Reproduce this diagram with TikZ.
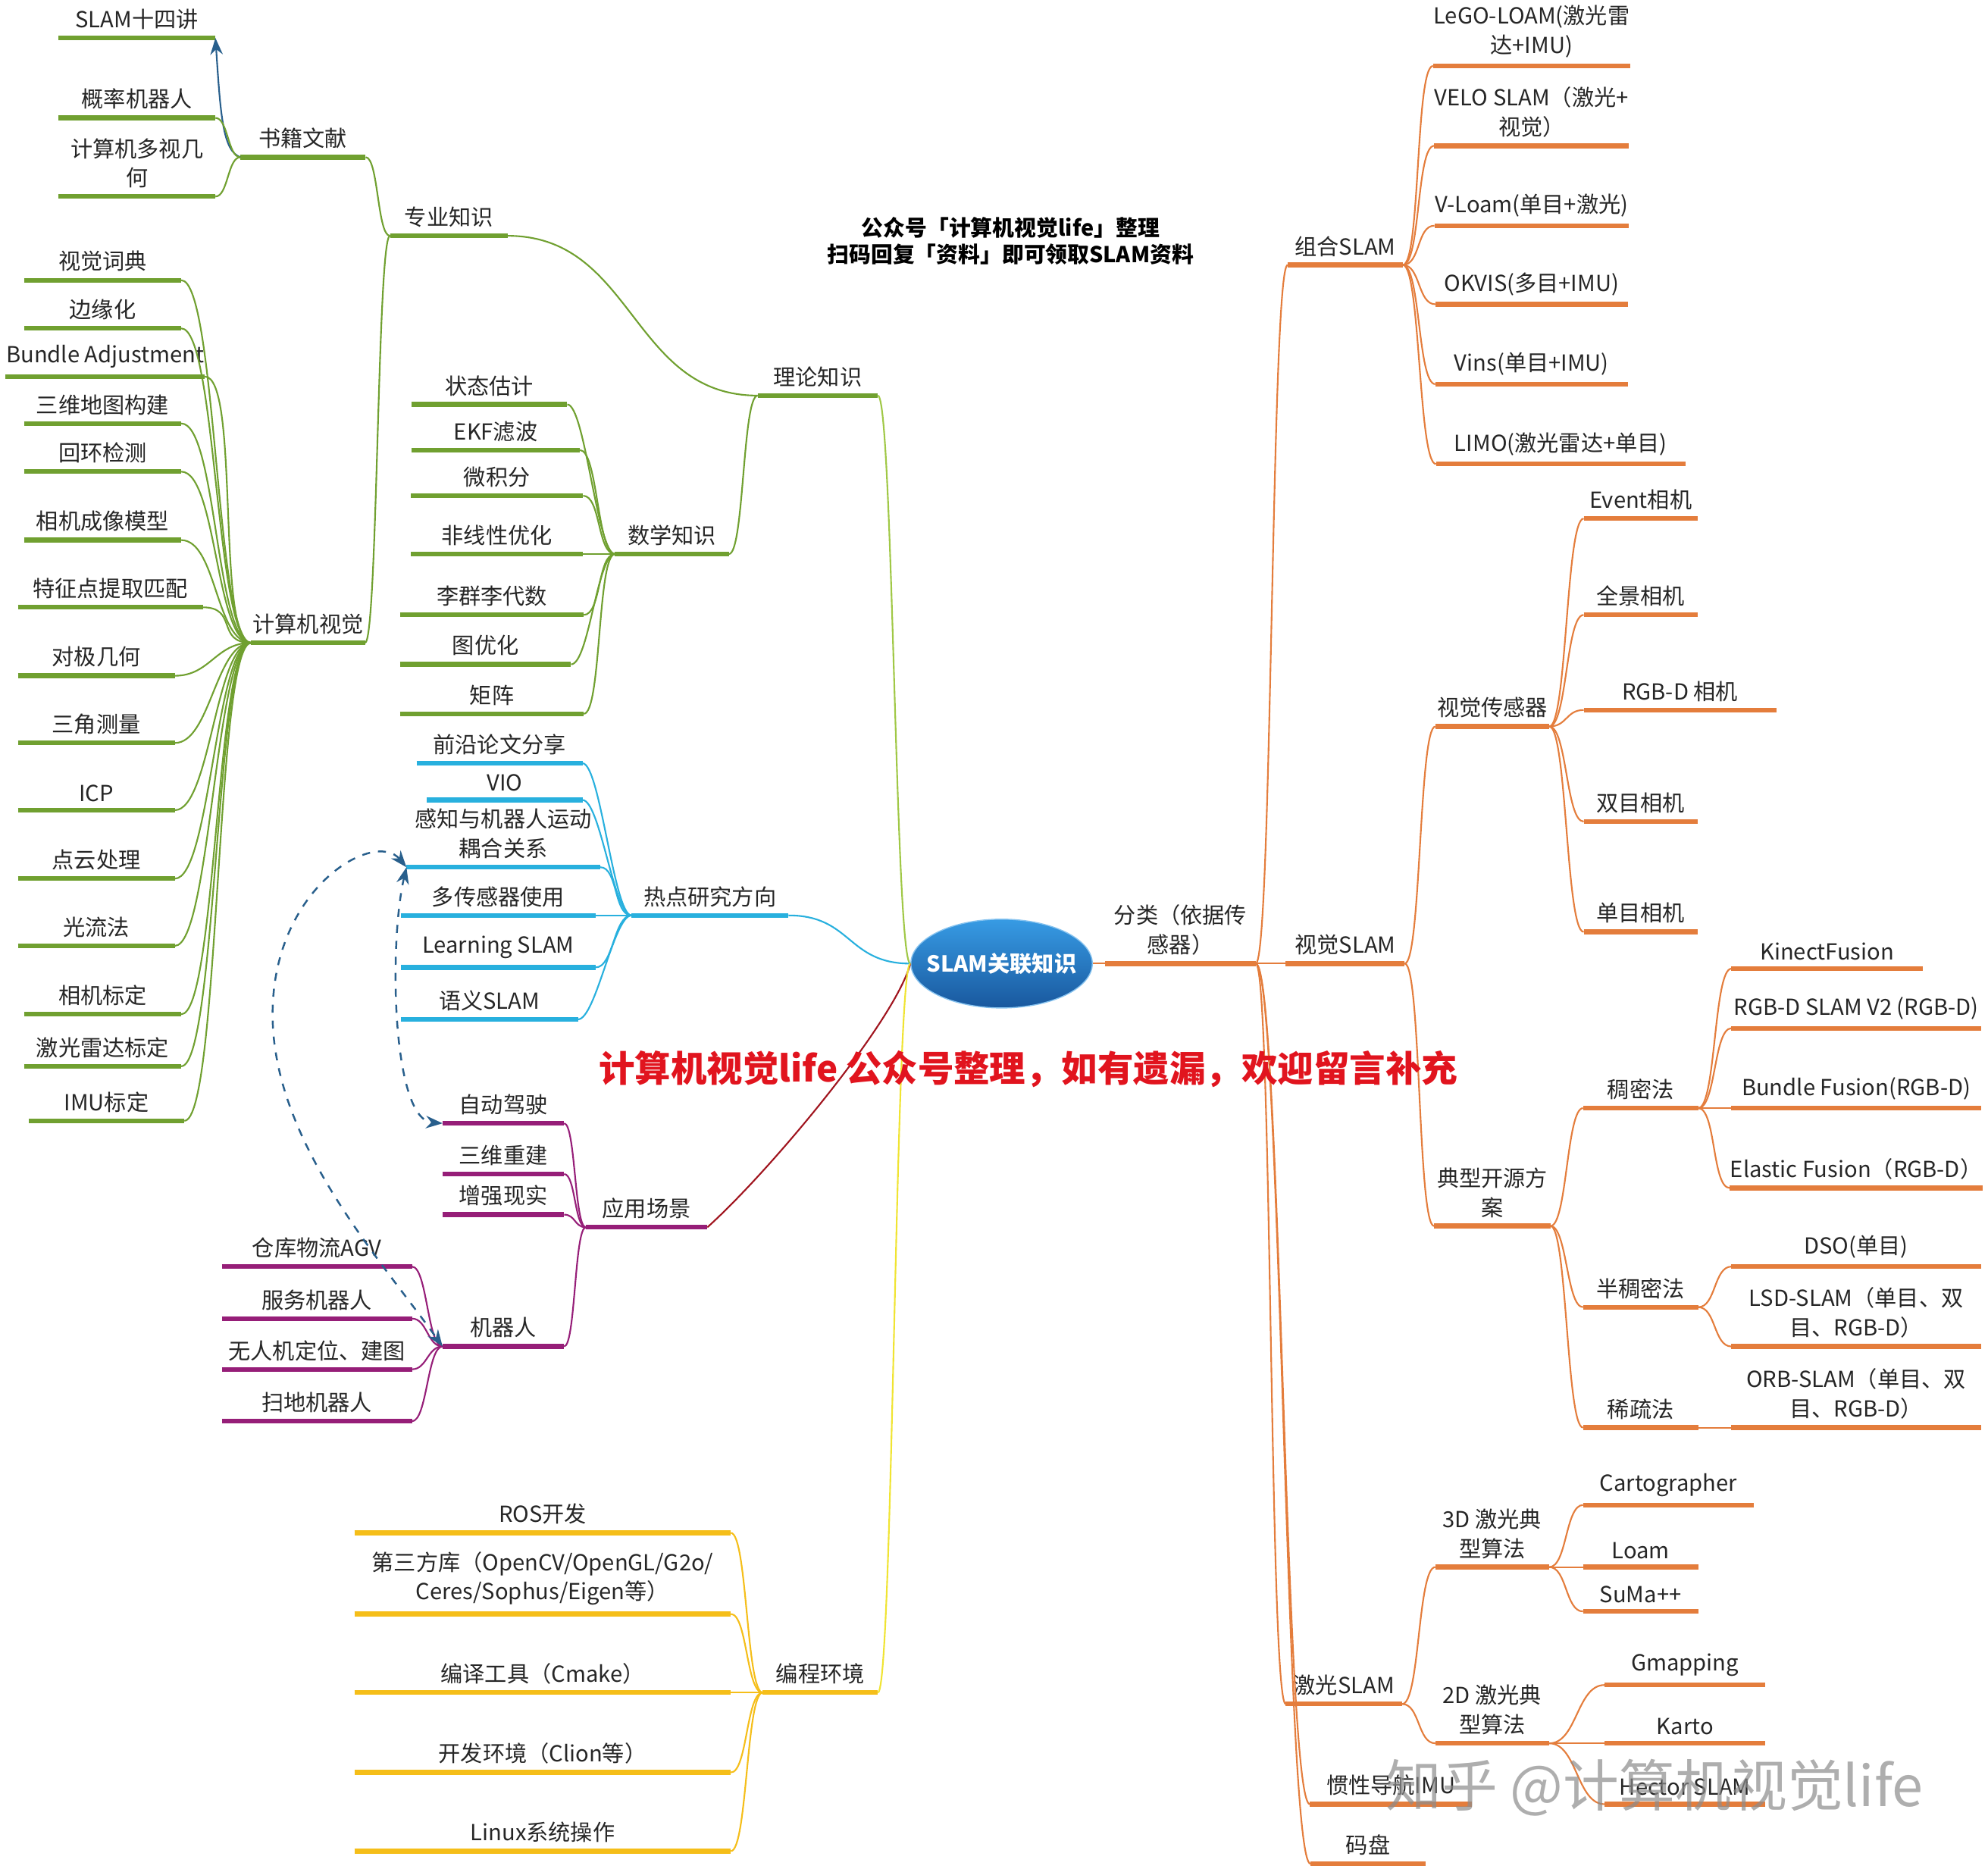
\documentclass[tikz,border=0pt]{standalone}
\usepackage{fontspec}
\usepackage{xcolor}
\usepackage{tikz}
\usetikzlibrary{shapes.geometric,arrows.meta}
\newfontfamily\cjk{Noto Sans CJK SC}
\definecolor{mapgreen}{RGB}{112,160,48}
\definecolor{maplime}{RGB}{160,200,70}
\definecolor{mapcyan}{RGB}{40,176,222}
\definecolor{mappurple}{RGB}{150,30,120}
\definecolor{mapred}{RGB}{160,20,30}
\definecolor{mapgold}{RGB}{245,190,25}
\definecolor{mapyellow}{RGB}{240,228,50}
\definecolor{maporange}{RGB}{228,125,60}
\definecolor{mapdash}{RGB}{40,95,140}
\definecolor{hubtop}{RGB}{55,155,228}
\definecolor{hubbot}{RGB}{25,88,158}
\definecolor{alertred}{RGB}{225,20,30}
\tikzset{
  tp/.style={anchor=south,inner xsep=0pt,inner ysep=3pt,align=center,
             append after command={(\tikzlastnode.south west)
               edge[draw=#1,line width=1.8pt] (\tikzlastnode.south east)}},
  bw/.style={minimum width=#1*0.01673cm},
  lk/.style={draw=#1,line width=0.6pt},
  toR/.style={to path={.. controls +(#1,0) and +(-#1,0) .. (\tikztotarget)}},
  toL/.style={to path={.. controls +(-#1,0) and +(#1,0) .. (\tikztotarget)}},
  rel/.style={draw=mapdash,line width=0.7pt,dashed,<->},
  hub/.style={ellipse,draw=hubtop!60!white,top color=hubtop,bottom color=hubbot,
              inner xsep=-4pt,inner ysep=0pt,
              minimum width=142*0.01673cm,minimum height=70*0.01673cm,
              text=white,font=\cjk\bfseries\fontsize{8.3}{10}\selectfont},
}
\begin{document}
\begin{tikzpicture}[x=0.01673cm,y=-0.01673cm,>={Stealth[length=2.2mm]},
    font=\cjk\fontsize{8.3}{11}\selectfont,text=black!85]
  \path[use as bounding box,fill=white] (0,0) rectangle (1568,1474);

  \node[hub] (hub) at (790,760) {SLAM关联知识};
  \node[font=\cjk\bfseries\fontsize{8.2}{10}\selectfont,align=center,text=black] (title) at (797,190)
    {公众号「计算机视觉life」整理\\扫码回复「资料」即可领取SLAM资料};

  \node[tp=mapgreen,bw=94] (theory) at (645,312) {理论知识};
  \node[tp=mapgreen,bw=92] (prof) at (354,186) {专业知识};
  \node[tp=mapgreen,bw=98] (books) at (239,124) {书籍文献};
  \node[tp=mapgreen,bw=123] (slam14) at (108,30) {SLAM十四讲};
  \node[tp=mapgreen,bw=123] (probrob) at (108,93) {概率机器人};
  \node[tp=mapgreen,bw=123] (mvg) at (108,155) {计算机多视几\\何};
  \node[tp=mapgreen,bw=89] (cv) at (243,507) {计算机视觉};
  \node[tp=mapgreen,bw=123] (vocab) at (81,221) {视觉词典};
  \node[tp=mapgreen,bw=123] (margin) at (81,259) {边缘化};
  \node[tp=mapgreen,bw=151] (ba) at (83,297) {Bundle Adjustment};
  \node[tp=mapgreen,bw=123] (map3d) at (81,334) {三维地图构建};
  \node[tp=mapgreen,bw=123] (loopdet) at (81,372) {回环检测};
  \node[tp=mapgreen,bw=123] (cammodel) at (81,426) {相机成像模型};
  \node[tp=mapgreen,bw=145] (feature) at (87,479) {特征点提取匹配};
  \node[tp=mapgreen,bw=123] (epipolar) at (76,533) {对极几何};
  \node[tp=mapgreen,bw=123] (triang) at (76,586) {三角测量};
  \node[tp=mapgreen,bw=123] (icp) at (76,639) {ICP};
  \node[tp=mapgreen,bw=123] (cloud) at (76,693) {点云处理};
  \node[tp=mapgreen,bw=123] (flow) at (76,746) {光流法};
  \node[tp=mapgreen,bw=123] (camcalib) at (81,800) {相机标定};
  \node[tp=mapgreen,bw=123] (lidcalib) at (81,841) {激光雷达标定};
  \node[tp=mapgreen,bw=122] (imucalib) at (84,884) {IMU标定};
  \node[tp=mapgreen,bw=89] (math) at (530,437) {数学知识};
  \node[tp=mapgreen,bw=122] (stateest) at (386,319) {状态估计};
  \node[tp=mapgreen,bw=132] (ekf) at (391,355) {EKF滤波};
  \node[tp=mapgreen,bw=135] (calculus) at (392,391) {微积分};
  \node[tp=mapgreen,bw=135] (nonlin) at (392,437) {非线性优化};
  \node[tp=mapgreen,bw=144] (liegroup) at (388,485) {李群李代数};
  \node[tp=mapgreen,bw=134] (graphopt) at (383,524) {图优化};
  \node[tp=mapgreen,bw=144] (matrix) at (388,563) {矩阵};

  \node[tp=mapcyan,bw=123] (hot) at (560,722) {热点研究方向};
  \node[tp=mapcyan,bw=130] (papers) at (394,602) {前沿论文分享};
  \node[tp=mapcyan,bw=122] (vio) at (398,631) {VIO};
  \node[tp=mapcyan,bw=152] (sense) at (397,684) {感知与机器人运动\\耦合关系};
  \node[tp=mapcyan,bw=153] (multisen) at (393,722) {多传感器使用};
  \node[tp=mapcyan,bw=153] (learn) at (393,763) {Learning SLAM};
  \node[tp=mapcyan,bw=139] (semantic) at (386,804) {语义SLAM};

  \node[tp=mappurple,bw=95] (app) at (510,968) {应用场景};
  \node[tp=mappurple,bw=95] (drive) at (397,886) {自动驾驶};
  \node[tp=mappurple,bw=95] (recon) at (397,926) {三维重建};
  \node[tp=mappurple,bw=95] (ar) at (397,958) {增强现实};
  \node[tp=mappurple,bw=95] (robot) at (397,1062) {机器人};
  \node[tp=mappurple,bw=149] (agv) at (250,999) {仓库物流AGV};
  \node[tp=mappurple,bw=149] (service) at (250,1040) {服务机器人};
  \node[tp=mappurple,bw=149] (drone) at (250,1080) {无人机定位、建图};
  \node[tp=mappurple,bw=149] (sweeper) at (250,1121) {扫地机器人};

  \node[tp=mapgold,bw=90] (prog) at (647,1335) {编程环境};
  \node[tp=mapgold,bw=296] (ros) at (428,1209) {ROS开发};
  \node[tp=mapgold,bw=296] (libs) at (428,1273) {第三方库（OpenCV/OpenGL/G2o/\\Ceres/Sophus/Eigen等）};
  \node[tp=mapgold,bw=296] (cmake) at (428,1335) {编译工具（Cmake）};
  \node[tp=mapgold,bw=296] (ide) at (428,1398) {开发环境（Clion等）};
  \node[tp=mapgold,bw=296] (linux) at (428,1460) {Linux系统操作};

  \node[tp=maporange,bw=118] (cls) at (931,760) {分类（依据传\\感器）};
  \node[tp=maporange,bw=90] (combo) at (1061,209) {组合SLAM};
  \node[tp=maporange,bw=93] (visual) at (1061,760) {视觉SLAM};
  \node[tp=maporange,bw=91] (laser) at (1060,1344) {激光SLAM};
  \node[tp=maporange,bw=127] (imu) at (1097,1423) {惯性导航IMU};
  \node[tp=maporange,bw=90] (encoder) at (1079,1470) {码盘};
  \node[tp=maporange,bw=151] (lego) at (1208,52) {LeGO-LOAM(激光雷\\达+IMU)};
  \node[tp=maporange,bw=151] (velo) at (1208,115) {VELO SLAM（激光+\\视觉）};
  \node[tp=maporange,bw=151] (vloam) at (1208,178) {V-Loam(单目+激光)};
  \node[tp=maporange,bw=151] (okvis) at (1208,240) {OKVIS(多目+IMU)};
  \node[tp=maporange,bw=151] (vins) at (1208,303) {Vins(单目+IMU)};
  \node[tp=maporange,bw=196] (limo) at (1231,366) {LIMO(激光雷达+单目)};
  \node[tp=maporange,bw=89] (vsensor) at (1177,573) {视觉传感器};
  \node[tp=maporange,bw=91] (typical) at (1177,967) {典型开源方\\案};
  \node[tp=maporange,bw=89] (event) at (1294,409) {Event相机};
  \node[tp=maporange,bw=89] (pano) at (1294,485) {全景相机};
  \node[tp=maporange,bw=151] (rgbd) at (1325,560) {RGB-D 相机};
  \node[tp=maporange,bw=89] (stereo) at (1294,648) {双目相机};
  \node[tp=maporange,bw=89] (mono) at (1294,735) {单目相机};
  \node[tp=maporange,bw=90] (dense) at (1294,874) {稠密法};
  \node[tp=maporange,bw=90] (semidense) at (1294,1031) {半稠密法};
  \node[tp=maporange,bw=90] (sparse) at (1294,1126) {稀疏法};
  \node[tp=maporange,bw=150] (kinect) at (1441,764) {KinectFusion};
  \node[tp=maporange,bw=196] (rgbdv2) at (1464,811) {RGB-D SLAM V2 (RGB-D)};
  \node[tp=maporange,bw=196] (bfusion) at (1464,874) {Bundle Fusion(RGB-D)};
  \node[tp=maporange,bw=196] (efusion) at (1464,937) {Elastic Fusion（RGB-D）};
  \node[tp=maporange,bw=196] (dso) at (1464,999) {DSO(单目)};
  \node[tp=maporange,bw=196] (lsd) at (1464,1062) {LSD-SLAM（单目、双\\目、RGB-D）};
  \node[tp=maporange,bw=196] (orb) at (1464,1126) {ORB-SLAM（单目、双\\目、RGB-D）};
  \node[tp=maporange,bw=89] (laser3d) at (1177,1236) {3D 激光典\\型算法};
  \node[tp=maporange,bw=89] (laser2d) at (1177,1375) {2D 激光典\\型算法};
  \node[tp=maporange,bw=134] (carto) at (1316,1187) {Cartographer};
  \node[tp=maporange,bw=90] (loam) at (1294,1236) {Loam};
  \node[tp=maporange,bw=90] (suma) at (1294,1271) {SuMa++};
  \node[tp=maporange,bw=126] (gmap) at (1329,1329) {Gmapping};
  \node[tp=maporange,bw=126] (karto) at (1329,1375) {Karto};
  \node[tp=maporange,bw=126] (hector) at (1329,1423) {Hector SLAM};

  \draw[lk=maplime] (hub.west) to[toL=12] (theory.south east);
  \draw[lk=mapgreen] (theory.south west) to[toL=100] (prof.south east);
  \draw[lk=mapgreen] (theory.south west) to[toL=12] (math.south east);
  \draw[lk=mapgreen] (prof.south west) to[toL=10] (books.south east);
  \draw[lk=mapgreen] (prof.south west) to[toL=10] (cv.south east);
  \draw[lk=mapdash,->] (books.south west) .. controls +(-14,-5) and +(4,60) .. (slam14.south east);
  \draw[lk=mapgreen] (books.south west) to[toL=10] (probrob.south east);
  \draw[lk=mapgreen] (books.south west) to[toL=10] (mvg.south east);
  \draw[lk=mapgreen] (cv.south west) to[toL=28] (vocab.south east);
  \draw[lk=mapgreen] (cv.south west) to[toL=28] (margin.south east);
  \draw[lk=mapgreen] (cv.south west) to[toL=28] (ba.south east);
  \draw[lk=mapgreen] (cv.south west) to[toL=28] (map3d.south east);
  \draw[lk=mapgreen] (cv.south west) to[toL=28] (loopdet.south east);
  \draw[lk=mapgreen] (cv.south west) to[toL=28] (cammodel.south east);
  \draw[lk=mapgreen] (cv.south west) to[toL=28] (feature.south east);
  \draw[lk=mapgreen] (cv.south west) to[toL=28] (epipolar.south east);
  \draw[lk=mapgreen] (cv.south west) to[toL=28] (triang.south east);
  \draw[lk=mapgreen] (cv.south west) to[toL=28] (icp.south east);
  \draw[lk=mapgreen] (cv.south west) to[toL=28] (cloud.south east);
  \draw[lk=mapgreen] (cv.south west) to[toL=28] (flow.south east);
  \draw[lk=mapgreen] (cv.south west) to[toL=28] (camcalib.south east);
  \draw[lk=mapgreen] (cv.south west) to[toL=28] (lidcalib.south east);
  \draw[lk=mapgreen] (cv.south west) to[toL=28] (imucalib.south east);
  \draw[lk=mapgreen] (math.south west) to[toL=14] (stateest.south east);
  \draw[lk=mapgreen] (math.south west) to[toL=14] (ekf.south east);
  \draw[lk=mapgreen] (math.south west) to[toL=14] (calculus.south east);
  \draw[lk=mapgreen] (math.south west) to[toL=14] (nonlin.south east);
  \draw[lk=mapgreen] (math.south west) to[toL=14] (liegroup.south east);
  \draw[lk=mapgreen] (math.south west) to[toL=14] (graphopt.south east);
  \draw[lk=mapgreen] (math.south west) to[toL=14] (matrix.south east);

  \draw[lk=mapcyan] (hub.west) to[toL=50] (hot.south east);
  \draw[lk=mapcyan] (hot.south west) to[toL=14] (papers.south east);
  \draw[lk=mapcyan] (hot.south west) to[toL=14] (vio.south east);
  \draw[lk=mapcyan] (hot.south west) to[toL=14] (sense.south east);
  \draw[lk=mapcyan] (hot.south west) to[toL=14] (multisen.south east);
  \draw[lk=mapcyan] (hot.south west) to[toL=14] (learn.south east);
  \draw[lk=mapcyan] (hot.south west) to[toL=14] (semantic.south east);

  \draw[lk=mapred] (hub.west) .. controls +(-12,45) and +(50,-45) .. (app.south east);
  \draw[lk=mappurple] (app.south west) to[toL=9] (drive.south east);
  \draw[lk=mappurple] (app.south west) to[toL=9] (recon.south east);
  \draw[lk=mappurple] (app.south west) to[toL=9] (ar.south east);
  \draw[lk=mappurple] (app.south west) to[toL=9] (robot.south east);
  \draw[lk=mappurple] (robot.south west) to[toL=12] (agv.south east);
  \draw[lk=mappurple] (robot.south west) to[toL=12] (service.south east);
  \draw[lk=mappurple] (robot.south west) to[toL=12] (drone.south east);
  \draw[lk=mappurple] (robot.south west) to[toL=12] (sweeper.south east);
  \draw[rel] (sense.south west) .. controls +(-14,60) and +(-40,-3) .. (drive.south west);
  \draw[rel] (sense.south west) .. controls +(-25,-30) and +(0,-100) .. (215,800)
    .. controls +(0,100) and +(-50,-70) .. (robot.south west);

  \draw[lk=mapyellow] (hub.west) to[toL=12] (prog.south east);
  \draw[lk=mapgold] (prog.south west) to[toL=13] (ros.south east);
  \draw[lk=mapgold] (prog.south west) to[toL=13] (libs.south east);
  \draw[lk=mapgold] (prog.south west) to[toL=13] (cmake.south east);
  \draw[lk=mapgold] (prog.south west) to[toL=13] (ide.south east);
  \draw[lk=mapgold] (prog.south west) to[toL=13] (linux.south east);

  \draw[lk=maporange] (hub.east) -- (cls.south west);
  \draw[lk=maporange] (cls.south east) to[toR=13] (combo.south west);
  \draw[lk=maporange] (cls.south east) to[toR=13] (visual.south west);
  \draw[lk=maporange] (cls.south east) to[toR=13] (laser.south west);
  \draw[lk=maporange] (cls.south east) to[toR=20] (imu.south west);
  \draw[lk=maporange] (cls.south east) to[toR=20] (encoder.south west);
  \draw[lk=maporange] (combo.south east) to[toR=14] (lego.south west);
  \draw[lk=maporange] (combo.south east) to[toR=14] (velo.south west);
  \draw[lk=maporange] (combo.south east) to[toR=14] (vloam.south west);
  \draw[lk=maporange] (combo.south east) to[toR=14] (okvis.south west);
  \draw[lk=maporange] (combo.south east) to[toR=14] (vins.south west);
  \draw[lk=maporange] (combo.south east) to[toR=14] (limo.south west);
  \draw[lk=maporange] (visual.south east) to[toR=13] (vsensor.south west);
  \draw[lk=maporange] (visual.south east) to[toR=13] (typical.south west);
  \draw[lk=maporange] (vsensor.south east) to[toR=14] (event.south west);
  \draw[lk=maporange] (vsensor.south east) to[toR=14] (pano.south west);
  \draw[lk=maporange] (vsensor.south east) to[toR=14] (rgbd.south west);
  \draw[lk=maporange] (vsensor.south east) to[toR=14] (stereo.south west);
  \draw[lk=maporange] (vsensor.south east) to[toR=14] (mono.south west);
  \draw[lk=maporange] (typical.south east) to[toR=13] (dense.south west);
  \draw[lk=maporange] (typical.south east) to[toR=13] (semidense.south west);
  \draw[lk=maporange] (typical.south east) to[toR=13] (sparse.south west);
  \draw[lk=maporange] (dense.south east) to[toR=14] (kinect.south west);
  \draw[lk=maporange] (dense.south east) to[toR=14] (rgbdv2.south west);
  \draw[lk=maporange] (dense.south east) to[toR=14] (bfusion.south west);
  \draw[lk=maporange] (dense.south east) to[toR=14] (efusion.south west);
  \draw[lk=maporange] (semidense.south east) to[toR=14] (dso.south west);
  \draw[lk=maporange] (semidense.south east) to[toR=14] (lsd.south west);
  \draw[lk=maporange] (sparse.south east) to[toR=14] (orb.south west);
  \draw[lk=maporange] (laser.south east) to[toR=14] (laser3d.south west);
  \draw[lk=maporange] (laser.south east) to[toR=14] (laser2d.south west);
  \draw[lk=maporange] (laser3d.south east) to[toR=14] (carto.south west);
  \draw[lk=maporange] (laser3d.south east) to[toR=14] (loam.south west);
  \draw[lk=maporange] (laser3d.south east) to[toR=14] (suma.south west);
  \draw[lk=maporange] (laser2d.south east) to[toR=22] (gmap.south west);
  \draw[lk=maporange] (laser2d.south east) to[toR=22] (karto.south west);
  \draw[lk=maporange] (laser2d.south east) to[toR=22] (hector.south west);

  \node[font=\cjk\bfseries\fontsize{13.5}{15}\selectfont,text=alertred] (note) at (811,843)
    {计算机视觉life 公众号整理，如有遗漏，欢迎留言补充};
  \node[font=\cjk\fontsize{21}{24}\selectfont,text=black!45,opacity=0.7] (zhihu) at (1305,1410)
    {知乎 @计算机视觉life};
\end{tikzpicture}
\end{document}
